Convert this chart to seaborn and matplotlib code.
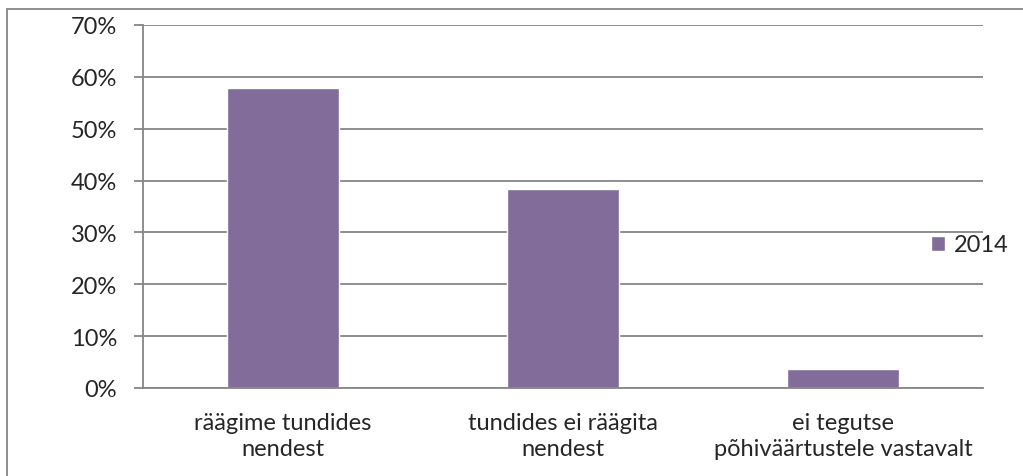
import matplotlib
matplotlib.use("Agg")
import matplotlib.pyplot as plt
import seaborn as sns
import pandas as pd
from matplotlib.patches import Rectangle
from matplotlib.ticker import PercentFormatter

categories = ["räägime tundides\nnendest", "tundides ei räägita\nnendest",
              "ei tegutse\npõhiväärtustele vastavalt"]
values_2014 = [0.578, 0.383, 0.037]
series_name = "2014"
y_ticks = [0, 0.1, 0.2, 0.3, 0.4, 0.5, 0.6, 0.7]

BAR_COLOR = "#8064A2"
GRID_COLOR = "#868686"
FS = 17

sns.set_style("white")
plt.rcParams["font.family"] = ["Lato", "DejaVu Sans"]

df = pd.DataFrame({"category": categories, "value": values_2014, "series": series_name})

fig = plt.figure(figsize=(10.23, 4.77), dpi=100)
ax = fig.add_axes([143 / 1023, 1 - 389 / 477, 840 / 1023, 363 / 477])

sns.barplot(data=df, x="category", y="value", hue="series", palette=[BAR_COLOR],
            width=0.4, ax=ax, legend=True)

ax.set_ylim(0, 0.7)
ax.set_xlim(-0.5, 2.5)
ax.set_yticks(y_ticks)
ax.yaxis.set_major_formatter(PercentFormatter(1.0, decimals=0))
ax.yaxis.grid(True, color=GRID_COLOR, lw=1.3)
ax.set_axisbelow(True)
ax.set_xlabel("")
ax.set_ylabel("")

for side in ["top", "right"]:
    ax.spines[side].set_visible(False)
for side in ["left", "bottom"]:
    ax.spines[side].set_color(GRID_COLOR)
    ax.spines[side].set_linewidth(1.3)

# category ticks sit between the groups, like Excel
ax.set_xticks([-0.5, 0.5, 1.5, 2.5], minor=True)
ax.tick_params(axis="x", which="minor", length=6, color=GRID_COLOR, width=1.3)
ax.tick_params(axis="x", which="major", length=0, pad=17, labelsize=FS)
ax.tick_params(axis="y", length=6.5, color=GRID_COLOR, width=1.3, pad=12, labelsize=FS,
               left=True)
for lbl in ax.get_xticklabels():
    lbl.set_linespacing(1.3)

leg = ax.legend(loc="center left", bbox_to_anchor=(0.927, 0.394), frameon=False,
                fontsize=FS, handlelength=0.6, handleheight=0.6, handletextpad=0.35,
                borderaxespad=0)

# outer chart border
fig.patches.append(Rectangle((7 / 1023, -0.1), 1.2, 1 - 10 / 477 + 0.1,
                             transform=fig.transFigure, fill=False,
                             edgecolor=GRID_COLOR, lw=1.3))

fig.savefig("out.png", dpi=100)
